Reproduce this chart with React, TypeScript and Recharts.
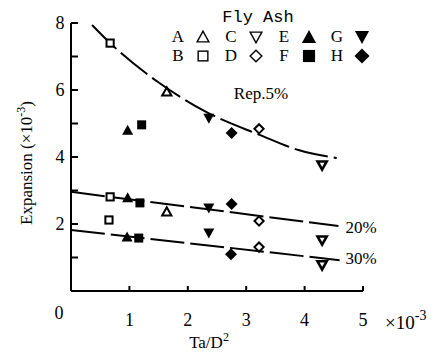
import { ComposedChart, Line, Scatter, XAxis, YAxis } from "recharts";

// fly ash type per point: A-H
const rep5 = [
  { x: 0.67, y: 7.4, ash: "B" },
  { x: 0.97, y: 4.8, ash: "E" },
  { x: 1.21, y: 4.96, ash: "F" },
  { x: 1.64, y: 5.94, ash: "A" },
  { x: 2.36, y: 5.16, ash: "G" },
  { x: 2.75, y: 4.72, ash: "H" },
  { x: 3.22, y: 4.84, ash: "D" },
  { x: 4.3, y: 3.76, ash: "C" },
];
const rep20 = [
  { x: 0.67, y: 2.81, ash: "B" },
  { x: 0.97, y: 2.78, ash: "E" },
  { x: 1.18, y: 2.63, ash: "F" },
  { x: 1.64, y: 2.36, ash: "A" },
  { x: 2.36, y: 2.48, ash: "G" },
  { x: 2.75, y: 2.6, ash: "H" },
  { x: 3.22, y: 2.09, ash: "D" },
  { x: 4.3, y: 1.52, ash: "C" },
];
const rep30 = [
  { x: 0.65, y: 2.12, ash: "B" },
  { x: 0.96, y: 1.61, ash: "E" },
  { x: 1.16, y: 1.58, ash: "F" },
  { x: 2.36, y: 1.73, ash: "G" },
  { x: 2.74, y: 1.1, ash: "H" },
  { x: 3.22, y: 1.31, ash: "D" },
  { x: 4.3, y: 0.78, ash: "C" },
];

// fitted curves as drawn
const curve5 = [
  { x: 0.36, y: 7.94 },
  { x: 0.67, y: 7.4 },
  { x: 1.52, y: 6.2 },
  { x: 2.32, y: 5.34 },
  { x: 3.23, y: 4.66 },
  { x: 3.91, y: 4.2 },
  { x: 4.55, y: 3.97 },
];
const curve20 = [
  { x: 0, y: 2.96 },
  { x: 4.58, y: 1.94 },
];
const curve30 = [
  { x: 0, y: 1.82 },
  { x: 4.6, y: 0.92 },
];

const xTicks = [0, 1, 2, 3, 4, 5];
const yTicks = [0, 1, 2, 3, 4, 5, 6, 7, 8];

const FONT = "Liberation Serif";

function Marker({ cx, cy, ash, k = 1 }: { cx: number; cy: number; ash: string; k?: number }) {
  const s = 4.5 * k;
  const o = 3.6 * k; // open markers, stroke adds the rest
  const w = k > 1 ? 1.4 : 2;
  switch (ash) {
    case "A":
      return <polygon points={`${cx},${cy - o - 1} ${cx - o - 1},${cy + o} ${cx + o + 1},${cy + o}`} fill="#fff" stroke="#000" strokeWidth={w} />;
    case "E":
      return <polygon points={`${cx},${cy - s - 1} ${cx - s - 1},${cy + s} ${cx + s + 1},${cy + s}`} fill="#000" />;
    case "C":
      return <polygon points={`${cx - o - 1},${cy - o} ${cx + o + 1},${cy - o} ${cx},${cy + o + 1}`} fill="#fff" stroke="#000" strokeWidth={k > 1 ? w : 2.6} />;
    case "G":
      return <polygon points={`${cx - s - 1},${cy - s} ${cx + s + 1},${cy - s} ${cx},${cy + s + 1}`} fill="#000" />;
    case "B":
      return <rect x={cx - o} y={cy - o} width={2 * o} height={2 * o} fill="#fff" stroke="#000" strokeWidth={w} />;
    case "F":
      return <rect x={cx - s} y={cy - s} width={2 * s} height={2 * s} fill="#000" />;
    case "D":
      return <polygon points={`${cx},${cy - o - 1} ${cx + o + 1},${cy} ${cx},${cy + o + 1} ${cx - o - 1},${cy}`} fill="#fff" stroke="#000" strokeWidth={w} />;
    default:
      return <polygon points={`${cx},${cy - s - 1.5} ${cx + s + 1.5},${cy} ${cx},${cy + s + 1.5} ${cx - s - 1.5},${cy}`} fill="#000" />;
  }
}

const shape = (props: any) => <Marker cx={props.cx} cy={props.cy} ash={props.payload.ash} />;

const YTick = (props: any) => {
  const { x, y, payload } = props;
  const v = payload.value;
  return (
    <g>
      <line x1={x} x2={x + 7} y1={y} y2={y} stroke="#000" strokeWidth={2} />
      {v > 0 && v % 2 === 0 && (
        <text x={x - 11} y={y} textAnchor="middle" dominantBaseline="central" fontFamily={FONT} fontSize={18} fill="#000">
          {v}
        </text>
      )}
    </g>
  );
};

const XTick = (props: any) => {
  const { x, y, payload } = props;
  const v = payload.value;
  return (
    <g>
      {v > 0 && <line x1={x} x2={x} y1={y} y2={y - 5} stroke="#000" strokeWidth={2} />}
      <text x={v === 0 ? x - 12 : x} y={v === 0 ? y + 22 : y + 29} textAnchor="middle" dominantBaseline="central" fontFamily={FONT} fontSize={18} fill="#000">
        {v}
      </text>
    </g>
  );
};

const legendRows = [
  ["A", "C", "E", "G"],
  ["B", "D", "F", "H"],
];

export default function App() {
  const dash = "34 6";
  return (
    <div style={{ position: "absolute", left: 0, top: 0, width: 444, height: 353, background: "#fff" }}>
      <ComposedChart width={444} height={353} margin={{ top: 23, right: 81, left: 0, bottom: 0 }}>
        <XAxis
          type="number"
          dataKey="x"
          domain={[0, 5]}
          ticks={xTicks}
          height={62}
          tickSize={0}
          tickMargin={0}
          tickLine={false}
          axisLine={{ stroke: "#000", strokeWidth: 2 }}
          tick={XTick}
          allowDataOverflow
        />
        <YAxis
          type="number"
          dataKey="y"
          domain={[0, 8]}
          ticks={yTicks}
          width={71}
          tickSize={0}
          tickMargin={0}
          tickLine={false}
          axisLine={{ stroke: "#000", strokeWidth: 2 }}
          tick={YTick}
          allowDataOverflow
        />
        <Line data={curve5} dataKey="y" type="monotone" stroke="#000" strokeWidth={2} strokeDasharray={dash} dot={false} isAnimationActive={false} />
        <Line data={curve20} dataKey="y" type="linear" stroke="#000" strokeWidth={2} strokeDasharray={dash} dot={false} isAnimationActive={false} />
        <Line data={curve30} dataKey="y" type="linear" stroke="#000" strokeWidth={2} strokeDasharray={dash} dot={false} isAnimationActive={false} />
        <Scatter data={rep5} dataKey="y" shape={shape} isAnimationActive={false} />
        <Scatter data={rep20} dataKey="y" shape={shape} isAnimationActive={false} />
        <Scatter data={rep30} dataKey="y" shape={shape} isAnimationActive={false} />
      </ComposedChart>
      <svg width={444} height={353} style={{ position: "absolute", left: 0, top: 0, pointerEvents: "none" }} fontFamily={FONT} fill="#000">
        <text x={258} y={17} textAnchor="middle" dominantBaseline="central" fontSize={17} fontFamily="Liberation Mono">
          Fly Ash
        </text>
        {legendRows.map((row, r) =>
          row.map((ash, c) => (
            <g key={ash}>
              <text x={178 + c * 53} y={36 + r * 19} textAnchor="middle" dominantBaseline="central" fontSize={17}>
                {ash}
              </text>
              <Marker cx={203 + c * 53} cy={37 + r * 19} ash={ash} k={1.35} />
            </g>
          ))
        )}
        <text x={261} y={93} textAnchor="middle" dominantBaseline="central" fontSize={17}>
          Rep.5%
        </text>
        <text x={361} y={227} textAnchor="middle" dominantBaseline="central" fontSize={17}>
          20%
        </text>
        <text x={361} y={258} textAnchor="middle" dominantBaseline="central" fontSize={17}>
          30%
        </text>
        <text x={385} y={322} dominantBaseline="central" fontSize={19}>
          ×10<tspan fontSize={14} dy={-7}>-3</tspan>
        </text>
        <text x={209} y={342} textAnchor="middle" dominantBaseline="central" fontSize={17}>
          Ta/D<tspan fontSize={12} dy={-5}>2</tspan>
        </text>
        <text x={26} y={163} textAnchor="middle" dominantBaseline="central" fontSize={17} transform="rotate(-90 26 163)">
          Expansion  (×10<tspan fontSize={12} dy={-5}>-3</tspan><tspan dy={5}>)</tspan>
        </text>
      </svg>
    </div>
  );
}
